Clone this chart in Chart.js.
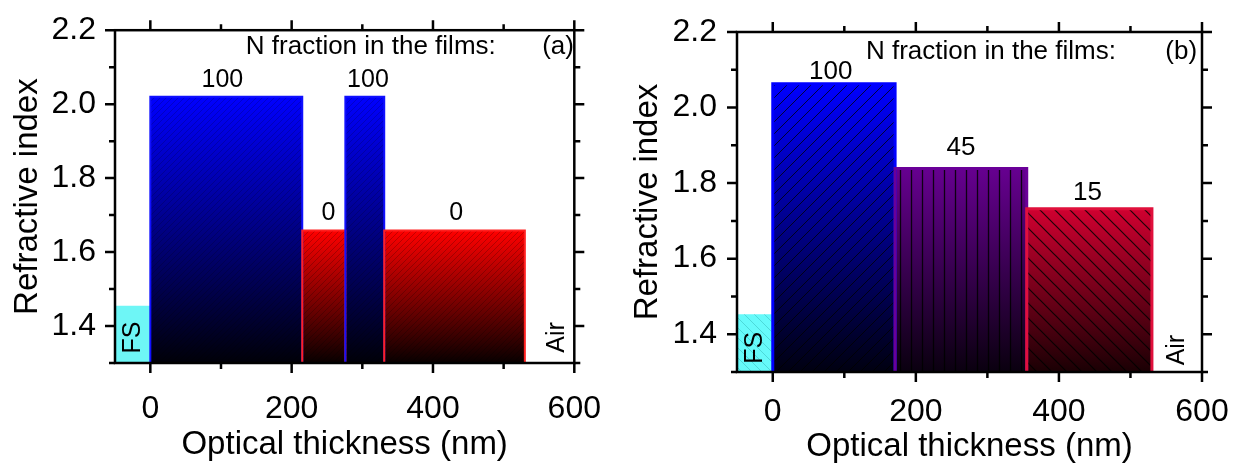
<!DOCTYPE html>
<html lang="en">
<head>
<meta charset="UTF-8">
<title>Refractive index profiles</title>
<style>
  body { margin: 0; background: #fff; }
  .panel { position: absolute; top: 0; }
</style>
</head>
<body>
<div class="panel" style="left:0"><canvas id="chartA" width="620" height="466"></canvas></div>
<div class="panel" style="left:620px"><canvas id="chartB" width="626" height="466"></canvas></div>

<script src="https://cdn.jsdelivr.net/npm/chart.js@4"></script>
<script>
// axis ticks (shared by both panels)
const xMajor = [0, 200, 400, 600];
const xMinor = [100, 300, 500];
const yMajor = [1.4, 1.6, 1.8, 2.0, 2.2];
const yMinor = [1.3, 1.5, 1.7, 1.9, 2.1];

// panel (a): layer start / end (optical thickness, nm) and refractive index
const startA = [-50, 0, 215, 276, 331];
const endA   = [0, 215, 276, 331, 530];
const nA     = [1.455, 2.02, 1.658, 2.02, 1.658];
const fracA  = ['100', '0', '100', '0'];
const fracAx = [102, 252, 308, 433];
const fracAy = [2.065, 1.706, 2.065, 1.706];

// panel (b)
const startB = [-50, 0, 171, 355];
const endB   = [0, 171, 355, 530];
const nB     = [1.453, 2.063, 1.839, 1.732];
const fracB  = ['100', '45', '15'];
const fracBx = [81, 263, 440];
const fracBy = [2.094, 1.893, 1.774];

const FONT = "'Liberation Sans', Arial, sans-serif";
const Y_MIN = 1.3, Y_MAX = 2.2, X_MIN = -50, X_MAX = 600;

// hatch pattern tile: '/', '\\' or '|'
function hatch(kind, size, color, lw) {
  const c = document.createElement('canvas');
  c.width = size; c.height = size;
  const g = c.getContext('2d');
  g.strokeStyle = color; g.lineWidth = lw;
  g.beginPath();
  if (kind === '|') {
    g.moveTo(size / 2, 0); g.lineTo(size / 2, size);
  } else if (kind === '/') {
    g.moveTo(0, size); g.lineTo(size, 0);
    g.moveTo(-1, 1); g.lineTo(1, -1);
    g.moveTo(size - 1, size + 1); g.lineTo(size + 1, size - 1);
  } else {
    g.moveTo(0, 0); g.lineTo(size, size);
    g.moveTo(-1, size - 1); g.lineTo(1, size + 1);
    g.moveTo(size - 1, -1); g.lineTo(size + 1, 1);
  }
  g.stroke();
  return g.createPattern(c, 'repeat');
}

function buildDatasets(starts, ends, ns, styles) {
  const sets = [];
  starts.forEach((s, i) => {
    const e = ends[i], n = ns[i], st = styles[i];
    const pts = [{x: s, y: Y_MIN}, {x: s, y: n}, {x: e, y: n}, {x: e, y: Y_MIN}];
    sets.push({
      data: pts, showLine: true, pointRadius: 0, borderWidth: 0, order: 100,
      fill: 'start',
      backgroundColor: ctx => {
        const ch = ctx.chart, area = ch.chartArea;
        if (!area) return st.top;
        const g = ch.ctx.createLinearGradient(0, ch.scales.y.getPixelForValue(n), 0, area.bottom);
        g.addColorStop(0, st.top);
        g.addColorStop(1, st.bottom);
        return g;
      }
    });
    sets.push({
      data: pts, showLine: true, pointRadius: 0, order: 50 - i,
      fill: 'start',
      backgroundColor: st.hatch || 'rgba(0,0,0,0)',
      borderColor: st.border, borderWidth: st.bw
    });
  });
  return sets;
}

const framePlugin = {
  id: 'frame',
  afterDatasetsDraw(chart) {
    const {ctx, chartArea: a, scales: {x, y}} = chart;
    ctx.save();
    ctx.strokeStyle = '#000';
    ctx.lineWidth = 2.5;
    ctx.strokeRect(a.left, a.top, a.right - a.left, a.bottom - a.top);
    ctx.beginPath();
    [[xMajor, 10], [xMinor, 6]].forEach(([vals, len]) => vals.forEach(v => {
      const p = x.getPixelForValue(v);
      ctx.moveTo(p, a.bottom); ctx.lineTo(p, a.bottom + len);
      ctx.moveTo(p, a.top); ctx.lineTo(p, a.top - len);
    }));
    [[yMajor, 10], [yMinor, 6]].forEach(([vals, len]) => vals.forEach(v => {
      const p = y.getPixelForValue(v);
      ctx.moveTo(a.left, p); ctx.lineTo(a.left - len, p);
      ctx.moveTo(a.right, p); ctx.lineTo(a.right + len, p);
    }));
    ctx.stroke();
    ctx.restore();
  }
};

const notesPlugin = {
  id: 'notes',
  afterDraw(chart, args, opts) {
    const {ctx, scales: {x, y}} = chart;
    ctx.save();
    ctx.fillStyle = '#000';
    ctx.textAlign = 'center';
    ctx.textBaseline = 'middle';
    opts.items.forEach(it => {
      ctx.font = it.size + 'px ' + FONT;
      const px = x.getPixelForValue(it.x), py = y.getPixelForValue(it.y);
      ctx.save();
      ctx.translate(px, py);
      if (it.rot) ctx.rotate(-Math.PI / 2);
      ctx.fillText(it.text, 0, 0);
      ctx.restore();
    });
    ctx.restore();
  }
};

function makeChart(id, datasets, notes, box) {
  const canvas = document.getElementById(id);
  return new Chart(canvas, {
    type: 'scatter',
    data: { datasets },
    options: {
      responsive: false,
      animation: false,
      events: [],
      layout: { padding: { top: box.top, right: canvas.width - box.right, left: 0, bottom: 0 } },
      plugins: { legend: { display: false }, tooltip: { enabled: false }, notes: { items: notes } },
      scales: {
        x: {
          type: 'linear', min: X_MIN, max: X_MAX,
          afterBuildTicks: s => { s.ticks = xMajor.map(v => ({ value: v })); },
          afterFit: s => { s.height = canvas.height - box.bottom; },
          grid: { display: false }, border: { display: false },
          ticks: { color: '#000', font: { family: FONT, size: 32 }, padding: box.xpad, maxRotation: 0, autoSkip: false },
          title: { display: true, text: 'Optical thickness (nm)', color: '#000',
                   font: { family: FONT, size: 33, lineHeight: 1 }, padding: { bottom: box.xtitle } }
        },
        y: {
          type: 'linear', min: Y_MIN, max: Y_MAX,
          afterBuildTicks: s => { s.ticks = yMajor.map(v => ({ value: v })); },
          afterFit: s => { s.width = box.left; },
          grid: { display: false }, border: { display: false },
          ticks: { color: '#000', font: { family: FONT, size: 32 }, padding: box.ypad,
                   callback: v => v.toFixed(1) },
          title: { display: true, text: 'Refractive index', color: '#000',
                   font: { family: FONT, size: 33, lineHeight: 1 }, padding: { top: 11 } }
        }
      }
    },
    plugins: [framePlugin, notesPlugin]
  });
}

// panel (a)
const stylesA = [
  { top: '#6ef6f6', bottom: '#6ef6f6', border: '#6ef6f6', bw: 0 },
  { top: '#0000ff', bottom: '#000008', border: '#1010ff', bw: 2, hatch: hatch('/', 6, 'rgba(0,0,0,0.18)', 1) },
  { top: '#ff0000', bottom: '#080000', border: '#ff2020', bw: 2, hatch: hatch('/', 6, 'rgba(0,0,0,0.22)', 1) },
  { top: '#0000ff', bottom: '#000008', border: '#1010ff', bw: 2, hatch: hatch('/', 6, 'rgba(0,0,0,0.18)', 1) },
  { top: '#ff0000', bottom: '#080000', border: '#ff2020', bw: 2, hatch: hatch('/', 6, 'rgba(0,0,0,0.22)', 1) }
];
const notesA = [
  { text: 'N fraction in the films:', x: 312, y: 2.155, size: 26 },
  { text: '(a)', x: 577, y: 2.155, size: 26 },
  { text: 'FS', x: -25, y: 1.369, size: 25, rot: true },
  { text: 'Air', x: 576, y: 1.369, size: 25, rot: true }
].concat(fracA.map((t, i) => ({ text: t, x: fracAx[i], y: fracAy[i], size: 25 })));
makeChart('chartA', buildDatasets(startA, endA, nA, stylesA), notesA,
  { left: 115, right: 580, top: 24, bottom: 363, ypad: 11, xpad: 19, xtitle: 5 });

// panel (b)
const stylesB = [
  { top: '#66fafa', bottom: '#66fafa', border: '#66fafa', bw: 0, hatch: hatch('\\', 10, 'rgba(0,120,120,0.25)', 1) },
  { top: '#0000ff', bottom: '#000010', border: '#0000ff', bw: 3, hatch: hatch('/', 12, 'rgba(0,0,0,0.75)', 1) },
  { top: '#660090', bottom: '#0a000f', border: '#6a0098', bw: 3, hatch: hatch('|', 11, 'rgba(0,0,0,0.85)', 1.3) },
  { top: '#d00030', bottom: '#1a0004', border: '#e0103c', bw: 3, hatch: hatch('\\', 15, 'rgba(0,0,0,0.85)', 1.2) }
];
const notesB = [
  { text: 'N fraction in the films:', x: 305, y: 2.147, size: 26 },
  { text: '(b)', x: 571, y: 2.147, size: 26 },
  { text: 'FS', x: -25, y: 1.364, size: 25, rot: true },
  { text: 'Air', x: 565, y: 1.358, size: 25, rot: true }
].concat(fracB.map((t, i) => ({ text: t, x: fracBx[i], y: fracBy[i], size: 26 })));
makeChart('chartB', buildDatasets(startB, endB, nB, stylesB), notesB,
  { left: 117, right: 582, top: 32, bottom: 372, ypad: 12, xpad: 13, xtitle: 3 });
</script>
</body>
</html>
